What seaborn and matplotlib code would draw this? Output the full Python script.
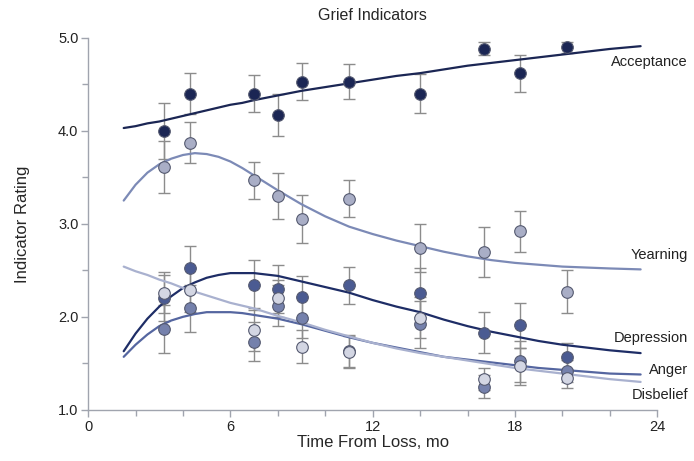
import seaborn as sns
import pandas as pd
import matplotlib.pyplot as plt
from matplotlib.ticker import MultipleLocator

# observed time points (months)
months = [3.2, 4.3, 7, 8, 9, 11, 14, 16.7, 18.2, 20.2]

acceptance = [4.00, 4.40, 4.40, 4.17, 4.53, 4.53, 4.40, 4.88, 4.62, 4.90]
acceptance_err = [0.30, 0.22, 0.20, 0.23, 0.20, 0.19, 0.21, 0.07, 0.20, 0.06]
yearning = [3.61, 3.87, 3.47, 3.30, 3.05, 3.27, 2.74, 2.70, 2.92, 2.27]
yearning_err = [0.28, 0.22, 0.20, 0.25, 0.26, 0.20, 0.26, 0.27, 0.22, 0.23]
depression = [2.20, 2.52, 2.34, 2.30, 2.21, 2.34, 2.26, 1.83, 1.91, 1.57]
depression_err = [0.25, 0.24, 0.27, 0.26, 0.23, 0.20, 0.26, 0.22, 0.24, 0.15]
anger = [1.87, 2.09, 1.73, 2.12, 1.99, 1.63, 1.92, 1.25, 1.52, 1.42]
anger_err = [0.26, 0.25, 0.21, 0.22, 0.22, 0.17, 0.25, 0.12, 0.22, 0.12]
disbelief = [2.26, 2.29, 1.86, 2.20, 1.68, 1.62, 1.99, 1.33, 1.47, 1.34]
disbelief_err = [0.22, 0.24, 0.23, 0.20, 0.18, 0.17, 0.22, 0.12, 0.20, 0.10]

# fitted curves
curve_x = [1.5, 2, 2.5, 3, 3.5, 4, 4.5, 5, 5.5, 6, 6.5, 7, 8, 9, 10, 11, 12, 13,
           14, 15, 16, 17, 18, 19, 20, 21, 22, 23.3]
acceptance_fit = [4.03, 4.05, 4.08, 4.10, 4.13, 4.16, 4.19, 4.22, 4.25, 4.28,
                  4.30, 4.33, 4.38, 4.43, 4.47, 4.51, 4.55, 4.59, 4.62, 4.66,
                  4.70, 4.73, 4.76, 4.79, 4.82, 4.85, 4.88, 4.91]
yearning_fit = [3.25, 3.42, 3.55, 3.64, 3.70, 3.74, 3.76, 3.75, 3.72, 3.67,
                3.60, 3.52, 3.36, 3.21, 3.08, 2.97, 2.89, 2.82, 2.76, 2.70,
                2.65, 2.61, 2.58, 2.56, 2.54, 2.53, 2.52, 2.51]
depression_fit = [1.63, 1.82, 1.98, 2.11, 2.22, 2.31, 2.37, 2.42, 2.45, 2.47,
                  2.47, 2.47, 2.44, 2.38, 2.32, 2.26, 2.18, 2.11, 2.05, 1.97,
                  1.90, 1.84, 1.79, 1.74, 1.70, 1.67, 1.64, 1.61]
anger_fit = [1.57, 1.70, 1.81, 1.90, 1.96, 2.00, 2.03, 2.05, 2.05, 2.05,
             2.04, 2.02, 1.98, 1.92, 1.85, 1.78, 1.72, 1.67, 1.62, 1.57,
             1.54, 1.51, 1.48, 1.45, 1.43, 1.41, 1.39, 1.38]
disbelief_fit = [2.54, 2.49, 2.45, 2.40, 2.36, 2.31, 2.27, 2.23, 2.19, 2.15,
                 2.12, 2.09, 2.01, 1.94, 1.86, 1.79, 1.72, 1.66, 1.61, 1.57,
                 1.53, 1.49, 1.45, 1.42, 1.39, 1.36, 1.33, 1.30]

series = [
    # name, values, errors, fit, point colour, line colour, label y
    ("Acceptance", acceptance, acceptance_err, acceptance_fit, "#1b2654", "#1b2654", 4.74),
    ("Yearning", yearning, yearning_err, yearning_fit, "#a9aec6", "#7c8ab6", 2.67),
    ("Depression", depression, depression_err, depression_fit, "#4b5b92", "#1e2d66", 1.77),
    ("Anger", anger, anger_err, anger_fit, "#7581ac", "#5566a0", 1.43),
    ("Disbelief", disbelief, disbelief_err, disbelief_fit, "#d3d6e3", "#a9b1cf", 1.16),
]

sns.set_style("white")
plt.rcParams["font.family"] = ["Liberation Sans", "DejaVu Sans"]

fig = plt.figure(figsize=(6.94, 4.61), dpi=100)
ax = fig.add_axes([0.127, 0.111, 0.82, 0.807])

for name, vals, errs, fit, pcol, lcol, ly in series:
    pts = pd.DataFrame({"month": months, "rating": vals})
    line = pd.DataFrame({"month": curve_x, "rating": fit})
    ax.errorbar(months, vals, yerr=errs, fmt="none", ecolor="#8c8c8c",
                elinewidth=1, capsize=4, capthick=1, zorder=2)
    sns.lineplot(data=line, x="month", y="rating", color=lcol, lw=1.6,
                 sort=False, ax=ax, zorder=3)
    sns.scatterplot(data=pts, x="month", y="rating", color=pcol, s=70,
                    edgecolor="#555a70", linewidth=0.8, ax=ax, zorder=4)
    ax.text(25.3, ly, name, ha="right", va="center", fontsize=10.5,
            color="#222222", clip_on=False)

ax.set_xlim(0, 24)
ax.set_ylim(1.0, 5.0)
ax.xaxis.set_major_locator(MultipleLocator(6))
ax.xaxis.set_minor_locator(MultipleLocator(2))
ax.yaxis.set_major_locator(MultipleLocator(1))
ax.yaxis.set_minor_locator(MultipleLocator(0.5))
ax.set_yticklabels([f"{v:.1f}" for v in ax.get_yticks()])
ax.tick_params(which="both", direction="out", color="#a0a4ae", width=1,
               labelsize=10.5, labelcolor="#222222")
ax.tick_params(which="major", length=5, bottom=True, left=True, pad=2)
ax.tick_params(which="minor", length=4, bottom=True, left=True)
sns.despine(ax=ax)
for side in ["left", "bottom"]:
    ax.spines[side].set_color("#a0a4ae")
    ax.spines[side].set_linewidth(1)

ax.set_xlabel("Time From Loss, mo", fontsize=12, labelpad=1)
ax.set_ylabel("Indicator Rating", fontsize=12, labelpad=20)
ax.set_title("Grief Indicators", fontsize=11.5, pad=13, fontweight="medium")

fig.savefig("out.png", dpi=100, facecolor="white")
